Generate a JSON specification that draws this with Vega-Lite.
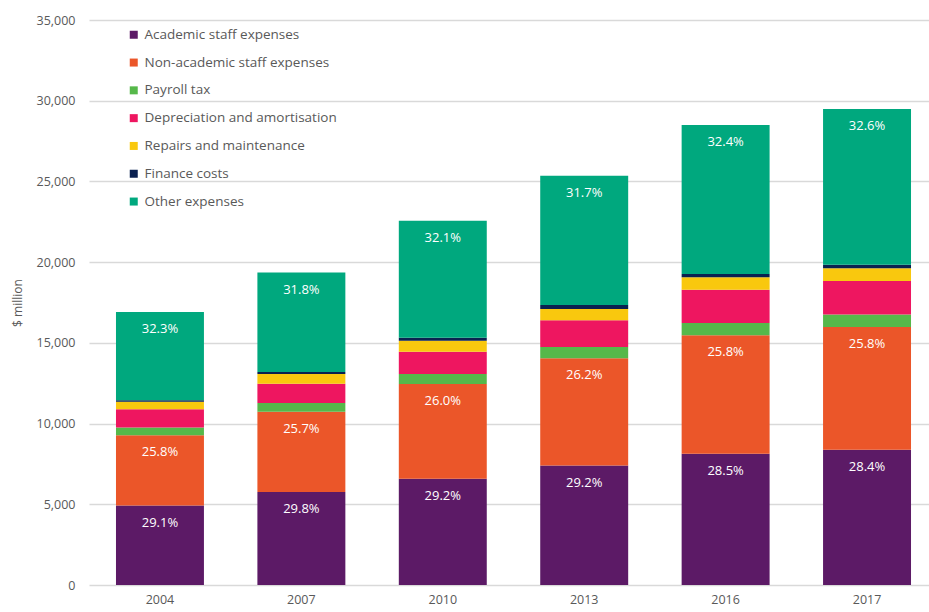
{
  "$schema": "https://vega.github.io/schema/vega-lite/v6.json",
  "width": 840,
  "height": 565,
  "autosize": {"type": "none"},
  "padding": {"left": 89, "top": 20, "right": 0, "bottom": 27},
  "config": {
    "font": "Open Sans",
    "view": {"stroke": null},
    "axis": {"labelColor": "#595959", "titleColor": "#595959", "labelFontSize": 12.5, "titleFontWeight": "normal"}
  },
  "data": {
    "values": [
      {"year": "2004", "category": "Academic staff expenses", "order": 1, "value": 4920, "label": "29.1%"},
      {"year": "2004", "category": "Non-academic staff expenses", "order": 2, "value": 4363, "label": "25.8%"},
      {"year": "2004", "category": "Payroll tax", "order": 3, "value": 480, "label": ""},
      {"year": "2004", "category": "Depreciation and amortisation", "order": 4, "value": 1120, "label": ""},
      {"year": "2004", "category": "Repairs and maintenance", "order": 5, "value": 470, "label": ""},
      {"year": "2004", "category": "Finance costs", "order": 6, "value": 95, "label": ""},
      {"year": "2004", "category": "Other expenses", "order": 7, "value": 5462, "label": "32.3%"},
      {"year": "2007", "category": "Academic staff expenses", "order": 1, "value": 5766, "label": "29.8%"},
      {"year": "2007", "category": "Non-academic staff expenses", "order": 2, "value": 4973, "label": "25.7%"},
      {"year": "2007", "category": "Payroll tax", "order": 3, "value": 540, "label": ""},
      {"year": "2007", "category": "Depreciation and amortisation", "order": 4, "value": 1190, "label": ""},
      {"year": "2007", "category": "Repairs and maintenance", "order": 5, "value": 600, "label": ""},
      {"year": "2007", "category": "Finance costs", "order": 6, "value": 130, "label": ""},
      {"year": "2007", "category": "Other expenses", "order": 7, "value": 6153, "label": "31.8%"},
      {"year": "2010", "category": "Academic staff expenses", "order": 1, "value": 6585, "label": "29.2%"},
      {"year": "2010", "category": "Non-academic staff expenses", "order": 2, "value": 5863, "label": "26.0%"},
      {"year": "2010", "category": "Payroll tax", "order": 3, "value": 620, "label": ""},
      {"year": "2010", "category": "Depreciation and amortisation", "order": 4, "value": 1380, "label": ""},
      {"year": "2010", "category": "Repairs and maintenance", "order": 5, "value": 690, "label": ""},
      {"year": "2010", "category": "Finance costs", "order": 6, "value": 180, "label": ""},
      {"year": "2010", "category": "Other expenses", "order": 7, "value": 7239, "label": "32.1%"},
      {"year": "2013", "category": "Academic staff expenses", "order": 1, "value": 7402, "label": "29.2%"},
      {"year": "2013", "category": "Non-academic staff expenses", "order": 2, "value": 6642, "label": "26.2%"},
      {"year": "2013", "category": "Payroll tax", "order": 3, "value": 700, "label": ""},
      {"year": "2013", "category": "Depreciation and amortisation", "order": 4, "value": 1660, "label": ""},
      {"year": "2013", "category": "Repairs and maintenance", "order": 5, "value": 700, "label": ""},
      {"year": "2013", "category": "Finance costs", "order": 6, "value": 240, "label": ""},
      {"year": "2013", "category": "Other expenses", "order": 7, "value": 8010, "label": "31.7%"},
      {"year": "2016", "category": "Academic staff expenses", "order": 1, "value": 8123, "label": "28.5%"},
      {"year": "2016", "category": "Non-academic staff expenses", "order": 2, "value": 7353, "label": "25.8%"},
      {"year": "2016", "category": "Payroll tax", "order": 3, "value": 760, "label": ""},
      {"year": "2016", "category": "Depreciation and amortisation", "order": 4, "value": 2050, "label": ""},
      {"year": "2016", "category": "Repairs and maintenance", "order": 5, "value": 780, "label": ""},
      {"year": "2016", "category": "Finance costs", "order": 6, "value": 200, "label": ""},
      {"year": "2016", "category": "Other expenses", "order": 7, "value": 9234, "label": "32.4%"},
      {"year": "2017", "category": "Academic staff expenses", "order": 1, "value": 8375, "label": "28.4%"},
      {"year": "2017", "category": "Non-academic staff expenses", "order": 2, "value": 7608, "label": "25.8%"},
      {"year": "2017", "category": "Payroll tax", "order": 3, "value": 780, "label": ""},
      {"year": "2017", "category": "Depreciation and amortisation", "order": 4, "value": 2070, "label": ""},
      {"year": "2017", "category": "Repairs and maintenance", "order": 5, "value": 790, "label": ""},
      {"year": "2017", "category": "Finance costs", "order": 6, "value": 220, "label": ""},
      {"year": "2017", "category": "Other expenses", "order": 7, "value": 9640, "label": "32.6%"}
    ]
  },
  "transform": [
    {"stack": "value", "groupby": ["year"], "sort": [{"field": "order", "order": "ascending"}], "as": ["y0", "y1"]}
  ],
  "encoding": {
    "x": {
      "field": "year", "type": "nominal",
      "scale": {"paddingInner": 0.378, "paddingOuter": 0.159, "align": 0.6},
      "axis": {"title": null, "labelAngle": 0, "domain": false, "ticks": false, "labelPadding": 8, "grid": false}
    }
  },
  "layer": [
    {
      "mark": {"type": "bar"},
      "encoding": {
        "y": {
          "field": "y0", "type": "quantitative",
          "scale": {"domain": [0, 35000]},
          "axis": {"title": "$ million", "titleFontSize": 12, "titlePadding": 12, "format": ",.0f", "values": [0, 5000, 10000, 15000, 20000, 25000, 30000, 35000], "domain": false, "ticks": false, "labelPadding": 14, "gridColor": "#d9d9d9", "gridWidth": 1.5}
        },
        "y2": {"field": "y1"},
        "color": {
          "field": "category", "type": "nominal",
          "sort": ["Academic staff expenses", "Non-academic staff expenses", "Payroll tax", "Depreciation and amortisation", "Repairs and maintenance", "Finance costs", "Other expenses"],
          "scale": {
            "domain": ["Academic staff expenses", "Non-academic staff expenses", "Payroll tax", "Depreciation and amortisation", "Repairs and maintenance", "Finance costs", "Other expenses"],
            "range": ["#5C1A66", "#EB5629", "#56B84A", "#EE1660", "#F9C80E", "#0A2150", "#00A87E"]
          },
          "legend": {
            "title": null, "orient": "none", "legendX": 38, "legendY": 8,
            "symbolType": "square", "symbolSize": 64, "symbolStrokeWidth": 0,
            "labelFontSize": 13.5, "labelColor": "#595959", "labelLimit": 400, "rowPadding": 12.8, "labelOffset": 4
          }
        }
      }
    },
    {
      "mark": {"type": "text", "color": "white", "fontSize": 13, "dy": 17, "baseline": "middle"},
      "encoding": {
        "y": {"field": "y1", "type": "quantitative"},
        "text": {"field": "label"}
      }
    }
  ]
}
